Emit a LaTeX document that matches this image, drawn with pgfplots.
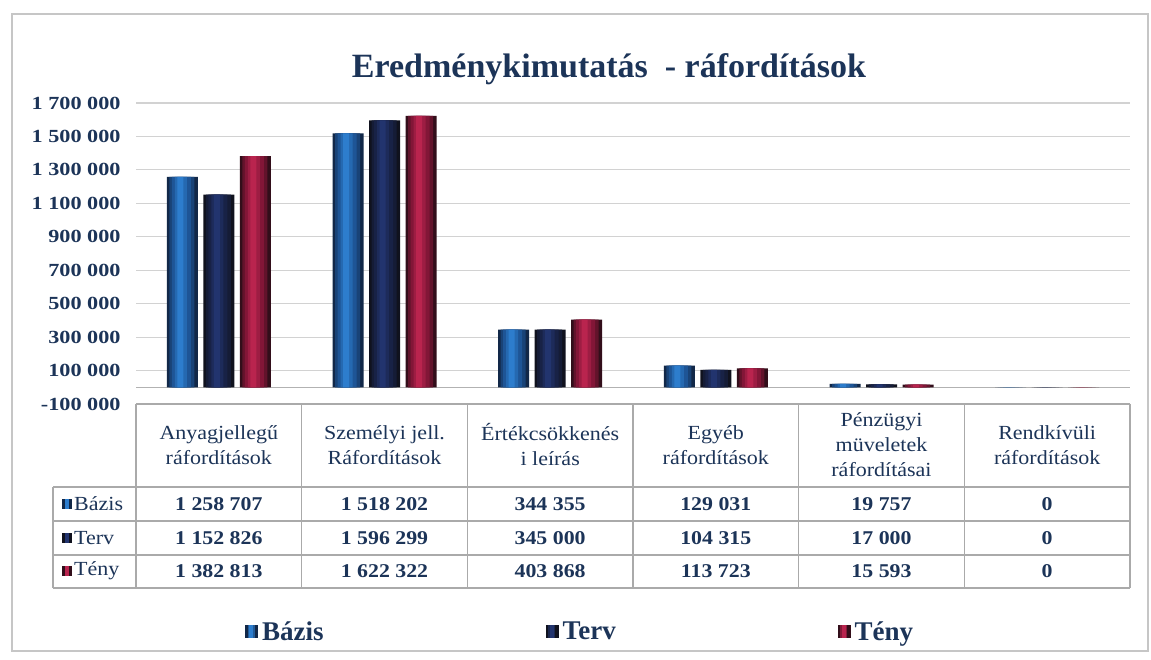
\documentclass[border=0pt]{standalone}
\usepackage{pgfplots}
\usepackage{pgfplotstable}
\pgfplotsset{compat=1.18}
\usepackage{fontspec}
\setmainfont{Liberation Serif}
\newfontfamily\tickf{Liberation Serif}[FakeStretch=1.2]
\newfontfamily\valf{Liberation Serif}[FakeStretch=1.12]
\newfontfamily\hdrf{Liberation Serif}[FakeStretch=1.1]
\definecolor{navy}{RGB}{28,52,88}
\definecolor{tgray}{RGB}{170,170,170}
\definecolor{bazD}{RGB}{18,40,72}
\definecolor{bazM}{RGB}{30,85,150}
\definecolor{bazL}{RGB}{45,125,205}
\definecolor{terD}{RGB}{16,18,30}
\definecolor{terM}{RGB}{24,34,70}
\definecolor{terL}{RGB}{34,52,110}
\definecolor{tenD}{RGB}{50,14,26}
\definecolor{tenM}{RGB}{130,22,55}
\definecolor{tenL}{RGB}{185,36,78}
\pgfplotstableread{
x bazis terv teny
0 1258707 1152826 1382813
1 1518202 1596299 1622322
2 344355 345000 403868
3 129031 104315 113723
4 19757 17000 15593
5 0 0 0
}\data
\pgfplotsset{
  outerbar/.style n args={3}{ybar, bar shift=#1, bar width=31pt, draw=none, fill=#2,
    legend image code/.code={\fill[#2] (0pt,-6pt) rectangle (13pt,7pt); \fill[#3!60!#2] (2.5pt,-6pt) rectangle (9.5pt,7pt); \fill[#3] (4pt,-6pt) rectangle (8pt,7pt);}},
  innerbar/.style n args={3}{ybar, bar shift=#1, bar width=#2, draw=none, fill=#3, forget plot},
}
\begin{document}
\begin{tikzpicture}[x=1pt,y=1pt]
\useasboundingbox (0,0) rectangle (1151,659);
\fill[white] (0,0) rectangle (1151,659);
\draw[gray!45, line width=1.5pt] (12,8) rectangle (1148,645);
\node[anchor=base, font=\fontsize{34}{40}\selectfont\bfseries, text=navy] at (609,581) {Eredménykimutatás\ \ - ráfordítások};
\begin{axis}[
  at={(136pt,255pt)}, anchor=south west, scale only axis,
  width=994pt, height=301pt,
  xmin=-0.5, xmax=5.5, ymin=-100000, ymax=1700000,
  xtick={0,1,2,3,4,5},
  xticklabels={{Anyagjellegű\\ráfordítások},{Személyi jell.\\Ráfordítások},{Értékcsökkenés\\i leírás},{Egyéb\\ráfordítások},{Pénzügyi\\müveletek\\ráfordításai},{Rendkívüli\\ráfordítások}},
  xticklabel style={anchor=center, yshift=-41pt, align=center, font=\hdrf\fontsize{20}{25}\selectfont, text=navy},
  ytick={-100000,100000,300000,500000,700000,900000,1100000,1300000,1500000,1700000},
  yticklabels={{-100 000},{100 000},{300 000},{500 000},{700 000},{900 000},{1 100 000},{1 300 000},{1 500 000},{1 700 000}},
  yticklabel style={font=\tickf\bfseries\fontsize{18.5}{20}\selectfont, text=navy, anchor=east, xshift=-12pt},
  extra y ticks={0}, extra y tick labels={},
  extra y tick style={grid style={gray!60, line width=1.2pt}},
  scaled y ticks=false,
  ymajorgrids, grid style={gray!35, line width=1.2pt},
  axis line style={draw=none}, major tick length=0pt,
  legend columns=3,
  legend style={at={(axis description cs:0.1097,-0.757)}, anchor=west, draw=none, fill=none, inner sep=0pt,
    font=\bfseries\fontsize{27}{30}\selectfont, text=navy,
    nodes={inner xsep=4pt},
    /tikz/every even column/.append style={column sep=218pt}},
]
\addplot[outerbar={-36.5pt}{bazD}{bazL}] table[x=x, y=bazis] {\data};
\addplot[outerbar={0pt}{terD}{terL}] table[x=x, y=terv] {\data};
\addplot[outerbar={36.5pt}{tenD}{tenL}] table[x=x, y=teny] {\data};
\legend{Bázis,Terv,Tény}
\addplot[innerbar={-37pt}{25pt}{bazM!60!bazD}] table[x=x, y=bazis] {\data};
\addplot[innerbar={-37.5pt}{19pt}{bazM}] table[x=x, y=bazis] {\data};
\addplot[innerbar={-38pt}{12pt}{bazM!50!bazL}] table[x=x, y=bazis] {\data};
\addplot[innerbar={-38.5pt}{6pt}{bazL}] table[x=x, y=bazis] {\data};
\addplot[innerbar={-0.5pt}{25pt}{terM!60!terD}] table[x=x, y=terv] {\data};
\addplot[innerbar={-1pt}{19pt}{terM}] table[x=x, y=terv] {\data};
\addplot[innerbar={-1.5pt}{12pt}{terM!50!terL}] table[x=x, y=terv] {\data};
\addplot[innerbar={-2pt}{6pt}{terL}] table[x=x, y=terv] {\data};
\addplot[innerbar={36pt}{25pt}{tenM!60!tenD}] table[x=x, y=teny] {\data};
\addplot[innerbar={35.5pt}{19pt}{tenM}] table[x=x, y=teny] {\data};
\addplot[innerbar={35pt}{12pt}{tenM!50!tenL}] table[x=x, y=teny] {\data};
\addplot[innerbar={34.5pt}{6pt}{tenL}] table[x=x, y=teny] {\data};
\end{axis}
% data table grid
\begin{scope}[tgray, line width=1.2pt]
\draw (136,255) -- (1130,255);
\foreach \x in {136,301.67,467.33,633,798.67,964.33,1130} \draw (\x,255) -- (\x,71);
\foreach \y in {172,138,104,71} \draw (53,\y) -- (1130,\y);
\draw (53,172) -- (53,71);
\end{scope}
% row headers
\begin{scope}[font=\hdrf\fontsize{20}{24}\selectfont, text=navy]
\fill[bazD] (62,150) rectangle (72,160); \fill[bazL] (65,150) rectangle (69,160);
\node[anchor=west, inner sep=0pt] at (74,155) {Bázis};
\fill[terD] (62,116) rectangle (72,126); \fill[terL] (65,116) rectangle (69,126);
\node[anchor=west, inner sep=0pt] at (74,121) {Terv};
\fill[tenD] (62,83) rectangle (72,93); \fill[tenL] (65,83) rectangle (69,93);
\node[anchor=west, inner sep=0pt] at (74,88) {Tény};
\end{scope}
% values
\begin{scope}[font=\valf\bfseries\fontsize{19.5}{22}\selectfont, text=navy]
\foreach \v [count=\i from 0] in {1 258 707,1 518 202,344 355,129 031,19 757,0}
  \node at (218.8+165.67*\i,155) {\v};
\foreach \v [count=\i from 0] in {1 152 826,1 596 299,345 000,104 315,17 000,0}
  \node at (218.8+165.67*\i,121) {\v};
\foreach \v [count=\i from 0] in {1 382 813,1 622 322,403 868,113 723,15 593,0}
  \node at (218.8+165.67*\i,88) {\v};
\end{scope}
\end{tikzpicture}
\end{document}
